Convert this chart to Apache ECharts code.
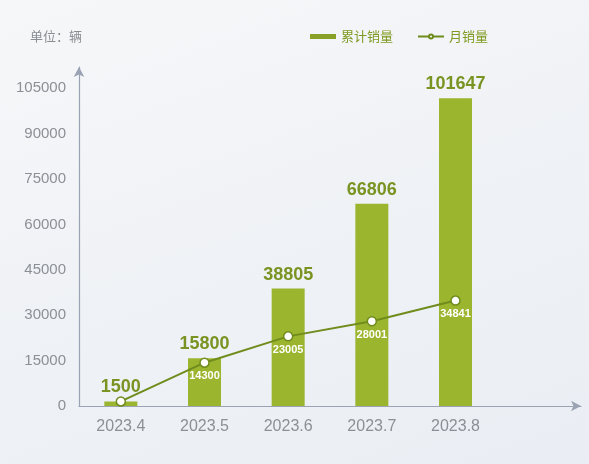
<!DOCTYPE html>
<html>
<head>
<meta charset="utf-8">
<script src="https://cdn.jsdelivr.net/npm/echarts@6/dist/echarts.min.js"></script>
<style>
html, body { margin: 0; padding: 0; }
#main { width: 589px; height: 464px; background: linear-gradient(160deg, #f6f7f9 0%, #eef1f5 60%, #eaeef4 100%); }
</style>
</head>
<body>
<div id="main"></div>
<script>
// 月份
var months = ['2023.4', '2023.5', '2023.6', '2023.7', '2023.8'];
// 累计销量
var totalSales = [1500, 15800, 38805, 66806, 101647];
// 月销量
var monthSales = [1500, 14300, 23005, 28001, 34841];
// y轴刻度
var yTicks = [0, 15000, 30000, 45000, 60000, 75000, 90000, 105000];

var chart = echarts.init(document.getElementById('main'));
var option = {
    title: {
        text: '单位：辆',
        left: 25,
        top: 25,
        textStyle: { color: '#8a8d92', fontSize: 13, fontWeight: 'normal', fontFamily: 'Noto Sans CJK SC' }
    },
    legend: {
        right: 96,
        top: 25,
        itemGap: 24,
        textStyle: { color: '#7f9a22', fontSize: 13, fontFamily: 'Noto Sans CJK SC' },
        data: [
            { name: '累计销量', icon: 'rect', itemStyle: { color: '#8aa128' } },
            { name: '月销量' }
        ],
        itemWidth: 26,
        itemHeight: 5
    },
    grid: { left: 79, right: 8, top: 67, bottom: 58 },
    xAxis: {
        type: 'category',
        data: months,
        max: 5,
        axisLine: { lineStyle: { color: '#9aa3b3', width: 1.2 }, symbol: ['none', 'arrow'], symbolSize: [8, 10] },
        axisTick: { show: false },
        axisLabel: {
            color: '#8c8f95', fontSize: 16, margin: 13, fontFamily: 'Liberation Sans',
            formatter: function (v) { return months.indexOf(v) >= 0 ? v : ''; }
        }
    },
    yAxis: {
        type: 'value',
        min: 0,
        max: 112000,
        interval: 15000,
        splitLine: { show: false },
        axisLine: { show: true, lineStyle: { color: '#9aa3b3', width: 1.2 }, symbol: ['none', 'arrow'], symbolSize: [8, 10] },
        axisTick: { show: false },
        axisLabel: {
            color: '#8c8f95', fontSize: 15, margin: 13, fontFamily: 'Liberation Sans', showMaxLabel: false,
            formatter: function (v) { return yTicks.indexOf(v) >= 0 ? v : ''; }
        }
    },
    series: [
        {
            name: '累计销量',
            type: 'bar',
            data: totalSales,
            barWidth: 33,
            itemStyle: { color: '#9cb52e' },
            label: {
                show: true,
                position: 'top',
                distance: 5,
                color: '#7a9423',
                fontSize: 18,
                fontWeight: 'bold',
                fontFamily: 'Liberation Sans'
            }
        },
        {
            name: '月销量',
            type: 'line',
            data: monthSales,
            symbol: 'circle',
            symbolSize: 9,
            showAllSymbol: true,
            lineStyle: { color: '#6f8c1c', width: 2 },
            itemStyle: { color: '#ffffff', borderColor: '#6f8c1c', borderWidth: 1.5 },
            label: {
                show: true,
                position: 'bottom',
                distance: 3,
                color: '#ffffff',
                fontSize: 11,
                fontWeight: 'bold',
                fontFamily: 'Liberation Sans',
                formatter: function (p) { return p.dataIndex === 0 ? '' : p.value; }
            }
        }
    ]
};
chart.setOption(option);
</script>
</body>
</html>
